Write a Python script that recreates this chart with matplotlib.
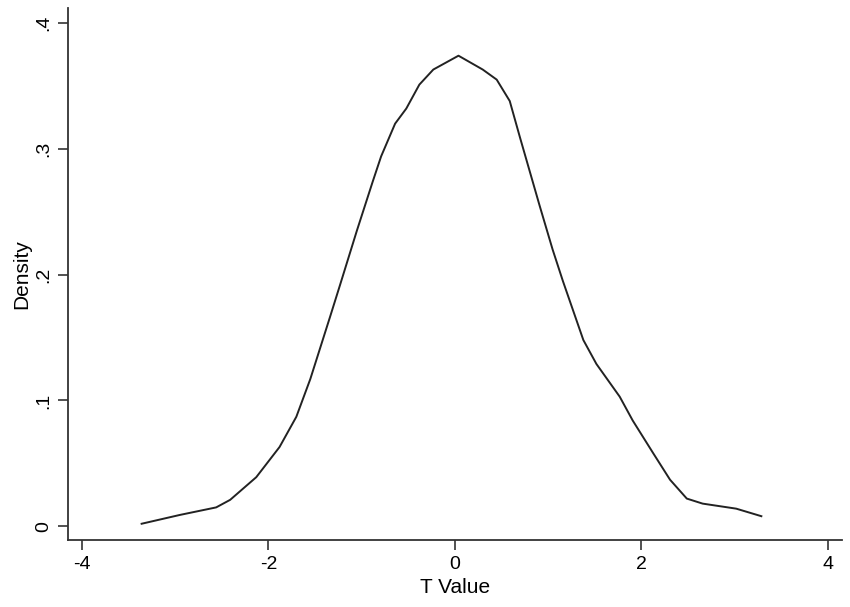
import matplotlib.pyplot as plt

# kernel density of T values
t_value = [-3.36, -2.95, -2.56, -2.41, -2.13, -1.88, -1.70, -1.55, -1.34, -1.23,
           -1.05, -0.88, -0.79, -0.64, -0.52, -0.38, -0.23, 0.04, 0.30, 0.45,
           0.59, 0.70, 0.91, 1.05, 1.16, 1.38, 1.52, 1.77, 1.91, 2.13,
           2.31, 2.49, 2.66, 3.02, 3.29]
density = [0.002, 0.009, 0.015, 0.021, 0.039, 0.063, 0.087, 0.117, 0.166, 0.192,
           0.235, 0.274, 0.294, 0.320, 0.332, 0.351, 0.363, 0.374, 0.363, 0.355,
           0.338, 0.309, 0.255, 0.220, 0.195, 0.148, 0.129, 0.103, 0.084, 0.058,
           0.037, 0.022, 0.018, 0.014, 0.008]

x_ticks = [-4, -2, 0, 2, 4]
y_ticks = [0, 0.1, 0.2, 0.3, 0.4]
y_labels = ['0', '.1', '.2', '.3', '.4']

plt.rcParams['font.family'] = ['Liberation Sans', 'DejaVu Sans']

fig = plt.figure(figsize=(8.5, 6.07), dpi=100)
ax = fig.add_axes([0.08, 0.11, 0.91, 0.877])

ax.plot(t_value, density, color='#222222', lw=1.4)

ax.set_xlim(-4.15, 4.15)
ax.set_ylim(-0.0111, 0.412)
ax.set_xticks(x_ticks)
ax.set_xticklabels([str(v) for v in x_ticks])
ax.set_yticks(y_ticks)
ax.set_yticklabels(y_labels, rotation=90, va='center')

for s in ['top', 'right']:
    ax.spines[s].set_visible(False)
for s in ['left', 'bottom']:
    ax.spines[s].set_color('#333333')
    ax.spines[s].set_linewidth(1.3)
ax.tick_params(direction='out', length=7, width=1.2, color='#333333',
               labelsize=14, pad=4)

ax.set_xlabel('T Value', fontsize=15, labelpad=4)
ax.set_ylabel('Density', fontsize=15, labelpad=3)

fig.savefig('out.png', dpi=100)
